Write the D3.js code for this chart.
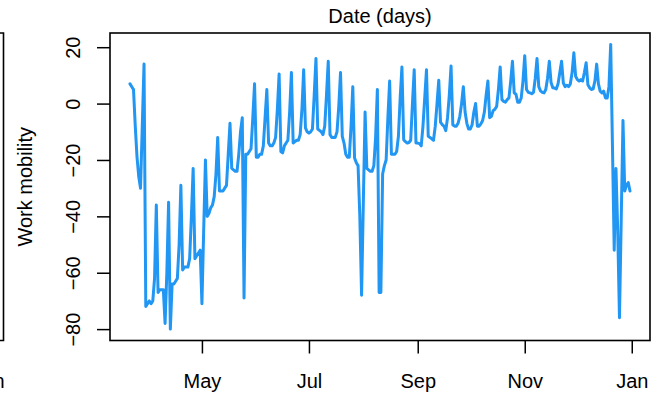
<!DOCTYPE html>
<html>
<head>
<meta charset="utf-8">
<script src="https://cdn.jsdelivr.net/npm/d3@7/dist/d3.min.js"></script>
<style>
  html, body { margin: 0; padding: 0; background: #fff; }
  svg { display: block; }
  text { font-family: "Liberation Sans", Arial, Helvetica, sans-serif; fill: #000; }
</style>
</head>
<body>
<svg id="chart" width="656" height="394"></svg>
<script>
// ---- data: daily work-mobility values, 21 Mar – 31 Dec 2020 ----
const startDate = "2020-03-21";
const mar = [7, 6, 5, -8, -19, -26, -30, -8, 14, -72, -71];
const apr = [-70, -71, -70, -62, -36, -67, -66, -66, -66, -78, -60, -35, -80, -64, -64,
             -63, -62, -50, -29, -59, -58, -58, -58, -55, -40, -23, -55, -54, -53, -52];
const may = [-71, -45, -20, -40, -39, -37, -36, -33, -25, -12, -31, -31, -31, -30, -29, -18,
             -7, -23, -23.5, -24, -24, -18, -10, -5, -69, -18, -18, -17, -16, -5, 7];
const jun = [-19, -19, -18, -18, -15, -5, 5, -14, -15, -15, -14, -12, -2, 10.5, -17, -17.5,
             -15, -14, -13, -3, 11, -14, -13.5, -13, -13, -11, -2, 12, -8.6, -10];
const jul = [-10.5, -10, -9, 3, 16, -9, -9.5, -10, -11, -8, 3, 15, -11, -12, -12, -12, -10,
             -1, 11, -11.6, -14, -18, -19, -19, -8, 6, -19.3, -21, -22, -40, -68];
const aug = [-35, -3, -23, -23.5, -24, -24, -22, -12, 5, -67, -67, -25, -22, -20, -5, 8, -18,
             -18, -18, -17, -11.6, 2, 13, -12.8, -13.5, -14, -13.8, -13, 0, 12, -14];
const sep = [-14, -14.2, -15, -8, 2, 12, -11.6, -12, -12.5, -13, -8, 0, 8.3, -6.6, -7.5, -8,
             -9.6, -5, 3, 13.3, -7.5, -8, -8, -7, -4.5, 0, 6, -3, -7, -9];
const oct = [-9, -7.5, -3, 0, -8, -8, -7.2, -6, -3, 3, 8, -5, -4.5, -2.5, -2, -1, 5, 13, 1.4,
             0.8, 0.5, 1.4, 2, 8, 15, 3.8, 3.3, 0.5, 0.5, 2, 8];
const nov = [17, 5, 4, 3.8, 3.5, 4, 9, 16, 6, 4.5, 4, 3.8, 5, 9, 15, 7.5, 5.6, 5.5, 5.2, 7, 11,
             15, 7.3, 6, 6.5, 6, 7, 11, 18, 9.7];
const dec = [8.5, 8, 8.5, 8, 11, 14.5, 6.7, 5.6, 5, 5.2, 8, 14, 7, 4.4, 3.8, 4.4, 2, 2, 6, 21,
             -15, -52, -23, -45, -76, -41, -6, -31, -29, -28, -31];

const xTickDates = ["2020-05-01", "2020-07-01", "2020-09-01", "2020-11-01", "2021-01-01"];
const xTickLabels = ["May", "Jul", "Sep", "Nov", "Jan"];
const yTicks = [-80, -60, -40, -20, 0, 20];
const titleText = "Date (days)";
const yLabelText = "Work mobility";

// ---- build series ----
const parse = d3.utcParse("%Y-%m-%d");
const values = [].concat(mar, apr, may, jun, jul, aug, sep, oct, nov, dec);
const t0 = parse(startDate);
const series = values.map((v, i) => ({ date: d3.utcDay.offset(t0, i), value: v }));

// ---- layout ----
const L = 110, R = 650, T = 33, B = 340.5;
const svg = d3.select("#chart");

const dExt = d3.extent(series, d => d.date);
const span = dExt[1] - dExt[0];
const x = d3.scaleUtc()
  .domain([new Date(+dExt[0] - span * 0.04), new Date(+dExt[1] + span * 0.04)])
  .range([L, R]);

const vExt = d3.extent(values);
const vSpan = vExt[1] - vExt[0];
const y = d3.scaleLinear()
  .domain([vExt[0] - vSpan * 0.04, vExt[1] + vSpan * 0.04])
  .range([B, T]);

// line
const line = d3.line().x(d => x(d.date)).y(d => y(d.value));
svg.append("path")
  .datum(series)
  .attr("d", line)
  .attr("fill", "none")
  .attr("stroke", "#2196F3")
  .attr("stroke-width", 3)
  .attr("stroke-linejoin", "round")
  .attr("stroke-linecap", "round");

// box
svg.append("rect")
  .attr("x", L).attr("y", T)
  .attr("width", R - L).attr("height", B - T)
  .attr("fill", "none").attr("stroke", "#000").attr("stroke-width", 1.6);

// partial neighbouring panel on the left
svg.append("path")
  .attr("d", `M0,${T}H3.5V${B}H0`)
  .attr("fill", "none").attr("stroke", "#000").attr("stroke-width", 1.6);
svg.append("text")
  .attr("x", 4.7).attr("y", 388)
  .attr("text-anchor", "end")
  .style("font-size", "20px")
  .text("Jan");

// y axis
const yAxis = d3.axisLeft(y)
  .tickValues(yTicks)
  .tickSize(13)
  .tickFormat(d => String(d).replace("-", "\u2212"));
const gy = svg.append("g").attr("transform", `translate(${L},0)`).call(yAxis);
gy.select(".domain").remove();
gy.selectAll(".tick line").attr("stroke", "#000").attr("stroke-width", 1.5);
gy.selectAll(".tick text")
  .attr("x", null).attr("dy", null)
  .attr("transform", "translate(-30,0) rotate(-90)")
  .attr("text-anchor", "middle")
  .style("font-size", "20px")
  .style("font-family", "'Liberation Sans', Arial, sans-serif")
  .attr("fill", "#000");

// x axis
const xAxis = d3.axisBottom(x)
  .tickValues(xTickDates.map(parse))
  .tickSize(13)
  .tickFormat((d, i) => xTickLabels[i]);
const gx = svg.append("g").attr("transform", `translate(0,${B})`).call(xAxis);
gx.select(".domain").remove();
gx.selectAll(".tick line").attr("stroke", "#000").attr("stroke-width", 1.5);
gx.selectAll(".tick text")
  .attr("y", 388 - B).attr("dy", null)
  .style("font-size", "20px")
  .style("font-family", "'Liberation Sans', Arial, sans-serif")
  .attr("fill", "#000");

// title (top) and y label
svg.append("text")
  .attr("x", (L + R) / 2).attr("y", 23)
  .attr("text-anchor", "middle")
  .style("font-size", "20px")
  .text(titleText);

svg.append("text")
  .attr("transform", `translate(31.5,${(T + B) / 2}) rotate(-90)`)
  .attr("text-anchor", "middle")
  .style("font-size", "20px")
  .text(yLabelText);
</script>
</body>
</html>
